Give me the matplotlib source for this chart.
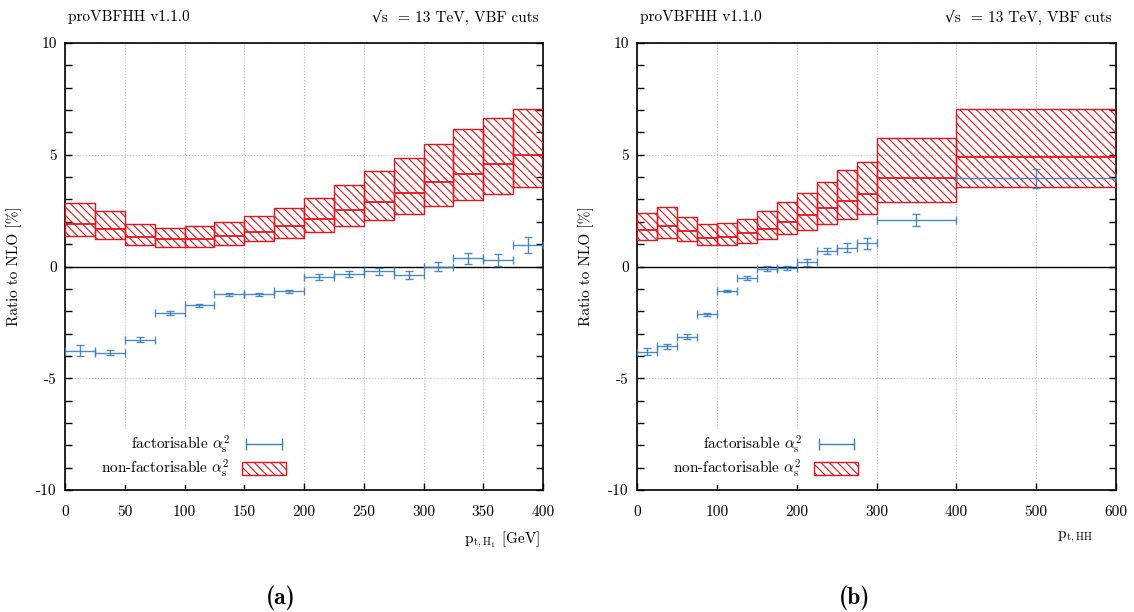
import numpy as np
import matplotlib
matplotlib.use('Agg')
import matplotlib.pyplot as plt
from matplotlib.patches import Patch
from matplotlib.lines import Line2D
from matplotlib.ticker import MultipleLocator

plt.rcParams['font.family'] = ['cmr10', 'DejaVu Serif']
plt.rcParams['mathtext.fontset'] = 'cm'
plt.rcParams['axes.unicode_minus'] = False
plt.rcParams['hatch.linewidth'] = 0.8

RED = '#e8141c'
BLUE = '#3a7fc2'
plt.rcParams['hatch.color'] = RED
HATCH = '\\\\\\\\'

# (a) pt of the hardest Higgs boson
edges_a = [0, 25, 50, 75, 100, 125, 150, 175, 200, 225, 250, 275, 300, 325, 350, 375, 400]
nf_cen_a = [1.92, 1.68, 1.34, 1.22, 1.25, 1.38, 1.56, 1.82, 2.14, 2.51, 2.90, 3.29, 3.78, 4.14, 4.57, 4.99]
nf_lo_a = [1.37, 1.21, 0.95, 0.86, 0.89, 0.98, 1.13, 1.29, 1.53, 1.80, 2.08, 2.35, 2.69, 2.98, 3.23, 3.57]
nf_hi_a = [2.86, 2.49, 1.89, 1.74, 1.79, 1.98, 2.26, 2.62, 3.07, 3.63, 4.26, 4.84, 5.49, 6.13, 6.65, 7.05]
fac_a = [-3.76, -3.85, -3.27, -2.08, -1.74, -1.25, -1.25, -1.11, -0.48, -0.34, -0.22, -0.40, 0.00, 0.36, 0.28, 0.98]
fac_err_a = [0.26, 0.12, 0.10, 0.07, 0.08, 0.08, 0.08, 0.08, 0.13, 0.12, 0.14, 0.18, 0.20, 0.25, 0.26, 0.36]

# (b) pt of the Higgs pair
edges_b = [0, 25, 50, 75, 100, 125, 150, 175, 200, 225, 250, 275, 300, 400, 600]
nf_cen_b = [1.64, 1.80, 1.58, 1.29, 1.34, 1.49, 1.70, 1.98, 2.31, 2.63, 2.95, 3.23, 3.96, 4.91]
nf_lo_b = [1.18, 1.26, 1.12, 0.94, 0.95, 1.06, 1.22, 1.44, 1.65, 1.90, 2.14, 2.34, 2.87, 3.56]
nf_hi_b = [2.38, 2.65, 2.23, 1.89, 1.93, 2.11, 2.47, 2.87, 3.30, 3.79, 4.30, 4.66, 5.73, 7.04]
fac_b = [-3.81, -3.57, -3.14, -2.13, -1.10, -0.52, -0.09, -0.06, 0.18, 0.70, 0.85, 1.04, 2.08, 3.94]
fac_err_b = [0.16, 0.12, 0.12, 0.07, 0.06, 0.08, 0.10, 0.10, 0.15, 0.15, 0.20, 0.24, 0.25, 0.41]

yticks = [-10, -5, 0, 5, 10]
ytick_labels = ['-10', '-5', '0', '5', '10']


def draw_panel(ax, edges, nf_lo, nf_cen, nf_hi, fac, fac_err, xstep, xlabel, xlab_pos):
    edges = np.array(edges, dtype=float)
    left = edges[:-1]
    right = edges[1:]
    width = right - left
    lo = np.array(nf_lo)
    hi = np.array(nf_hi)

    # non-factorisable band
    ax.bar(left, hi - lo, width, bottom=lo, align='edge', facecolor='none',
           edgecolor=RED, hatch=HATCH, linewidth=1.0, zorder=3)
    ax.hlines(nf_cen, left, right, color=RED, lw=1.3, zorder=3)

    # factorisable
    ax.errorbar(left + width / 2, fac, xerr=width / 2, yerr=fac_err, fmt='none',
                ecolor=BLUE, elinewidth=1.0, capsize=3, capthick=1.0, alpha=0.9, zorder=4)

    ax.axhline(0, color='black', lw=1.0, zorder=2)

    ax.set_xlim(edges[0], edges[-1])
    ax.set_ylim(-10, 10)
    ax.xaxis.set_major_locator(MultipleLocator(xstep))
    ax.set_yticks(yticks, labels=ytick_labels)
    ax.yaxis.set_minor_locator(MultipleLocator(1))
    ax.tick_params(axis='y', which='both', direction='in', left=True, right=True,
                   length=5, width=1, labelsize=11, pad=6)
    ax.tick_params(axis='x', direction='in', top=False, length=5, width=1,
                   labelsize=11, pad=11)
    for s in ax.spines.values():
        s.set_linewidth(1.2)
    ax.set_axisbelow(True)
    ax.grid(True, which='major', ls=':', color='#bbbbbb', lw=0.8)

    ax.set_ylabel('Ratio to NLO [%]', fontsize=11)
    ax.yaxis.set_label_coords(-0.09, 0.5)
    ax.set_xlabel(xlabel, fontsize=11, ha='right')
    ax.xaxis.set_label_coords(xlab_pos, -0.09)

    ax.text(0.006, 1.058, 'proVBFHH v1.1.0', transform=ax.transAxes,
            ha='left', va='center', fontsize=11)
    ax.text(0.99, 1.058, '√s  = 13 TeV, VBF cuts', transform=ax.transAxes,
            ha='right', va='center', fontsize=11)

    h_fac = Line2D([], [], color=BLUE, lw=1.0, marker='|', markersize=8, markeredgewidth=1.0)
    h_nf = Patch(facecolor='white', edgecolor=RED, hatch=HATCH, linewidth=1.0)
    leg = ax.legend([h_fac, h_nf],
                    [r'factorisable $\alpha_{\rm s}^2$', r'non-factorisable $\alpha_{\rm s}^2$'],
                    loc='lower left', bbox_to_anchor=(0.05, -0.005), markerfirst=False,
                    numpoints=2, markerscale=1.0, handlelength=2.9, handleheight=0.9,
                    frameon=True, facecolor='white', edgecolor='none', framealpha=1,
                    fontsize=11, labelspacing=0.1, borderpad=0.3, fancybox=False)
    leg.set_zorder(5)


fig = plt.figure(figsize=(11.34, 6.12), dpi=100)
ax_a = fig.add_axes([65 / 1134, 1 - 490 / 612, 478 / 1134, 447 / 612])
ax_b = fig.add_axes([637 / 1134, 1 - 490 / 612, 479 / 1134, 447 / 612])

draw_panel(ax_a, edges_a, nf_lo_a, nf_cen_a, nf_hi_a, fac_a, fac_err_a, 50,
           r'p$_{\rm t,H_1}$ [GeV]', 0.993)
draw_panel(ax_b, edges_b, nf_lo_b, nf_cen_b, nf_hi_b, fac_b, fac_err_b, 100,
           r'p$_{\rm t,HH}$', 0.952)

fig.text(281 / 1134, 1 - 598 / 612, '(a)', family=['cmb10', 'DejaVu Serif'],
         fontsize=17, ha='center', va='center')
fig.text(855 / 1134, 1 - 598 / 612, '(b)', family=['cmb10', 'DejaVu Serif'],
         fontsize=17, ha='center', va='center')

fig.savefig('out.png', dpi=100)
